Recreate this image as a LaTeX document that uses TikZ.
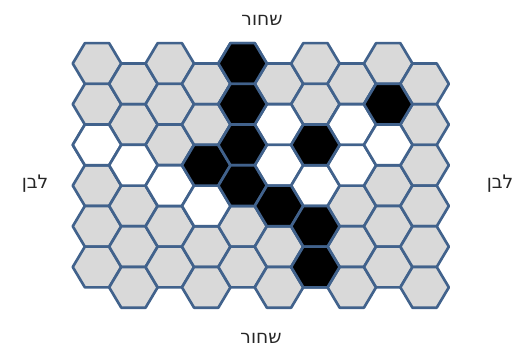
\documentclass[tikz,border=0pt]{standalone}
\usepackage{fontspec}
\setmainfont{Liberation Sans}
\newfontfamily\hebfont[Script=Hebrew]{DejaVu Sans}
\TeXXeTstate=1
\usetikzlibrary{positioning}
\definecolor{edgeblue}{RGB}{65,98,140}
\definecolor{boardgray}{RGB}{217,217,217}

\begin{document}
\begin{tikzpicture}[x=0.75pt, y=-0.75pt,
            cell/.style={draw=edgeblue, line width=2pt, line join=round, fill=boardgray},
            stoneblack/.style={cell, fill=black},
            stonewhite/.style={cell, fill=white},
            side/.style={font=\hebfont\fontsize{14}{17}\selectfont, text=black!85},
            hexcell/.pic={\path[pic actions] (-24.25,0) -- (-12.13,-20.35) -- (12.13,-20.35) -- (24.25,0) -- (12.13,20.35) -- (-12.13,20.35) -- cycle;}
        ]
            \useasboundingbox (0,0) rectangle (515,350);

            % --- board ---
            \foreach \c in {1,...,10}
                \foreach \r in {1,...,6}{
                    \pgfmathsetmacro\hy{63.5+40.7*(\r-1)+20.35*(1-mod(\c,2))}
                    \coordinate (c-\c-\r) at ({97+36.4*(\c-1)},\hy);
                    \pic[cell] at (c-\c-\r) {hexcell};
                }

            % --- stones ---
            \foreach \c/\r in {1/3,2/3,3/4,4/4,6/2,6/3,7/4,8/2,8/3,9/3}
                \pic[stonewhite] at (c-\c-\r) {hexcell};
            \foreach \c/\r in {4/3,5/1,5/2,5/3,5/4,6/4,7/3,7/5,7/6,9/2}
                \pic[stoneblack] at (c-\c-\r) {hexcell};

            % --- sides ---
            \node[side] (top) at (262,20) {\beginR שחור\endR};
            \node[side] (bottom) at (261,338) {\beginR שחור\endR};
            \node[side] (left) at (35,184) {\beginR לבן\endR};
            \node[side] (right) at (500,184) {\beginR לבן\endR};
        \end{tikzpicture}
\end{document}
